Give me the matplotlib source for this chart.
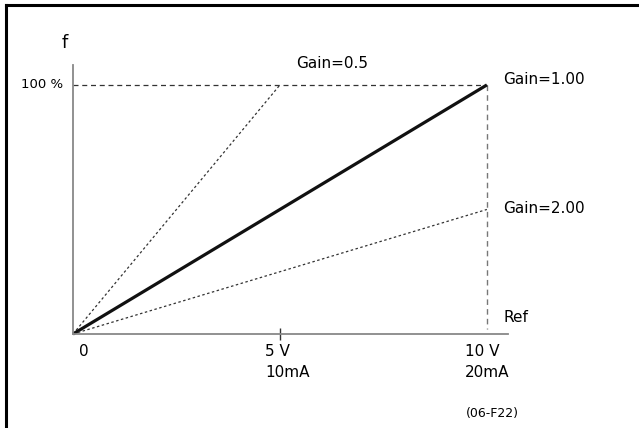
import matplotlib
matplotlib.use("Agg")
import matplotlib.pyplot as plt

# reference signal (V) and output frequency (%)
ref_max = 10
f_max = 100
gains = [0.5, 1.00, 2.00]
gain_labels = ["Gain=0.5", "Gain=1.00", "Gain=2.00"]
tick_pos = [0, 5, 10]
tick_labels = ["0", "5 V\n10mA", "10 V\n20mA"]

W, H = 639, 428
fig = plt.figure(figsize=(W / 100, H / 100), dpi=100)

# frame (top and left edges only)
fig.add_artist(plt.Line2D([6 / W, 6 / W], [0, 1 - 5 / H], color="black", lw=2.2))
fig.add_artist(plt.Line2D([6 / W, 1], [1 - 5 / H, 1 - 5 / H], color="black", lw=2.2))

x0, y0 = 73, 334
x1, y1 = 508, 65
ax = fig.add_axes([x0 / W, 1 - y0 / H, (x1 - x0) / W, (y0 - y1) / H])
ax.set_xlim(0, 10.51)
ax.set_ylim(0, 108)
for s in ["top", "right"]:
    ax.spines[s].set_visible(False)
for s in ["left", "bottom"]:
    ax.spines[s].set_color("#888888")
    ax.spines[s].set_linewidth(1.3)
ax.set_yticks([])
ax.set_xticks([5])
ax.set_xticklabels([""])
ax.tick_params(axis="x", direction="inout", length=9, width=1, color="#333333")

# guide lines
ax.plot([0, ref_max], [f_max, f_max], color="#333333", lw=0.9, ls=(0, (4, 3)), clip_on=False)
ax.plot([ref_max, ref_max], [f_max, 2], color="#777777", lw=1.0, ls=(0, (4, 3)), clip_on=False)

# gain curves
for g in gains:
    xe = min(ref_max, f_max * g / (f_max / ref_max)) if g < 1 else ref_max
    ye = min(f_max, ref_max * (f_max / ref_max) / g)
    if g == 1.00:
        ax.plot([0, xe], [0, ye], color="#111111", lw=2.3, solid_capstyle="butt", clip_on=False)
    else:
        ax.plot([0, xe], [0, ye], color="#333333", lw=0.9, ls=(0, (2, 2)), clip_on=False)

fs = 11
ax.text(5.4, 108.5, gain_labels[0], fontsize=fs, va="center", ha="left")
ax.text(10.4, 102, gain_labels[1], fontsize=fs, va="center", ha="left")
ax.text(10.4, 50.5, gain_labels[2], fontsize=fs, va="center", ha="left")
ax.text(10.4, 6.5, "Ref", fontsize=fs, va="center", ha="left")
ax.text(-0.2, 117, "f", fontsize=13, va="center", ha="center")
ax.text(-0.25, f_max, "100 %", fontsize=9.5, va="center", ha="right")

offs = [0.15, -0.35, -0.52]
for p, lab, o in zip(tick_pos, tick_labels, offs):
    ax.text(p + o, -4.2, lab, fontsize=fs, va="top", ha="left",
            linespacing=1.45, clip_on=False)

ax.text(9.5, -32, "(06-F22)", fontsize=9, va="center", ha="left")

fig.savefig("out.png", dpi=100)
